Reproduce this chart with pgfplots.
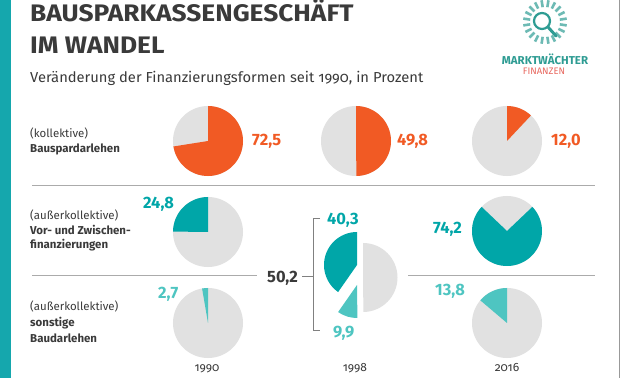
\documentclass[border=0pt]{standalone}
\usepackage{pgfplots}
\pgfplotsset{compat=1.18}
\usepackage{fontspec}
\setmainfont{Fira Sans}
\newfontfamily\osf{Fira Sans}[Numbers=OldStyle]
\definecolor{porange}{HTML}{F15A24}
\definecolor{pteal}{HTML}{00A6A8}
\definecolor{plteal}{HTML}{4EC5C1}
\definecolor{pgray}{HTML}{E1E1E1}
\definecolor{ptext}{HTML}{3A3A3A}
\definecolor{pline}{HTML}{ABABAB}
\definecolor{pbar}{HTML}{15A7AD}
\definecolor{logoteal}{HTML}{2E9C93}
\definecolor{logored}{HTML}{E8685F}
% slice: x, y, radius, start angle, share in percent, direction (+1 ccw, -1 cw), colour
\newcommand{\pieslice}[7]{%
  \fill[#7] (axis cs:#1,#2) -- ++(#4:#3bp) arc[start angle=#4, end angle={#4+#6*#5*3.6}, radius=#3bp] -- cycle;}
\newcommand{\disk}[3]{\fill[pgray] (axis cs:#1,#2) circle[radius=#3bp];}
\newcommand{\fs}[1]{\fontsize{#1}{#1}\selectfont}
\begin{document}
\begin{tikzpicture}
\begin{axis}[x=1bp, y=1bp, xmin=0, xmax=621, ymin=0, ymax=378,
  hide axis, clip=false, anchor=origin, at={(0,0)}]
\fill[white] (axis cs:0,0) rectangle (axis cs:621,378);
\fill[pbar] (axis cs:0,0) rectangle (axis cs:11,378);
\draw[gray!80, line width=1bp] (axis cs:619.5,0) -- (axis cs:619.5,378);
% title
\node[anchor=base west, text=ptext, inner sep=0pt] at (axis cs:30,356.5) {\scalebox{1.1}[1]{\fs{24}\bfseries BAUSPARKASSENGESCHÄFT}};
\node[anchor=base west, text=ptext, inner sep=0pt] at (axis cs:30,325) {\scalebox{1.1}[1]{\fs{24}\bfseries IM WANDEL}};
\node[anchor=base west, text=ptext, inner sep=0pt] at (axis cs:30,296) {\scalebox{1.02}[1]{\fs{14.5}Veränderung der Finanzierungsformen seit {\osf 1990}, in Prozent}};
\node[anchor=base, text=logoteal, inner sep=0pt] at (axis cs:545,314) {\fs{11.5}\bfseries MARKTWÄCHTER};
\node[anchor=base, text=logored, inner sep=0pt] at (axis cs:544,304) {\fs{9.5}FINANZEN};
% separators
\draw[pline, line width=1bp] (axis cs:32,192) -- (axis cs:595,192);
\draw[pline, line width=1bp] (axis cs:32,102) -- (axis cs:257,102);
\draw[pline, line width=1bp] (axis cs:408,102) -- (axis cs:595,102);
% row labels
\node[anchor=base west, text=ptext, inner sep=0pt] at (axis cs:30,240.5) {\fs{11.5}(kollektive)};
\node[anchor=base west, text=ptext, inner sep=0pt] at (axis cs:30,225.5) {\fs{11.5}\bfseries Bauspardarlehen};
\node[anchor=base west, text=ptext, inner sep=0pt] at (axis cs:30,159) {\fs{11.5}(außerkollektive)};
\node[anchor=base west, text=ptext, inner sep=0pt] at (axis cs:30,144) {\fs{11.5}\bfseries Vor- und Zwischen-};
\node[anchor=base west, text=ptext, inner sep=0pt] at (axis cs:30,129.5) {\fs{11.5}\bfseries finanzierungen};
\node[anchor=base west, text=ptext, inner sep=0pt] at (axis cs:30,67.5) {\fs{11.5}(außerkollektive)};
\node[anchor=base west, text=ptext, inner sep=0pt] at (axis cs:30,51.5) {\fs{11.5}\bfseries sonstige};
\node[anchor=base west, text=ptext, inner sep=0pt] at (axis cs:30,35.5) {\fs{11.5}\bfseries Baudarlehen};
% row 1: kollektive Bauspardarlehen (1990, 1998, 2016)
\disk{208}{237}{35} \pieslice{208}{237}{35}{90}{72.5}{-1}{porange}
\disk{356}{237}{35} \pieslice{356}{237}{35}{90}{49.8}{-1}{porange}
\disk{507}{237}{35} \pieslice{507}{237}{35}{90}{12.0}{-1}{porange}
% row 2: Vor- und Zwischenfinanzierungen
\disk{208}{146}{35} \pieslice{208}{146}{35}{90}{24.8}{1}{pteal}
\disk{507}{147}{35} \pieslice{507}{147}{35}{136.44}{74.2}{1}{pteal}
% row 3: sonstige Baudarlehen
\disk{208}{55}{35} \pieslice{208}{55}{35}{90}{2.7}{1}{plteal}
\disk{507}{55}{35} \pieslice{507}{55}{35}{90}{13.8}{1}{plteal}
% 1998 combined (50,2 = 40,3 + 9,9)
\pieslice{363}{100.5}{34.5}{90}{49.8}{-1}{pgray}
\pieslice{357}{113}{33}{90}{40.3}{1}{pteal}
\pieslice{357}{93}{33}{235.08}{9.9}{1}{plteal}
% bracket
\draw[gray, line width=1bp] (axis cs:302,101) -- (axis cs:313,101);
\draw[gray, line width=1bp] (axis cs:320,159) -- (axis cs:313,159) -- (axis cs:313,47) -- (axis cs:320,47);
% values
\node[anchor=base west, text=porange, inner sep=0pt] at (axis cs:252,233) {\fs{16.5}\bfseries 72,5};
\node[anchor=base west, text=porange, inner sep=0pt] at (axis cs:397,233) {\fs{16.5}\bfseries 49,8};
\node[anchor=base west, text=porange, inner sep=0pt] at (axis cs:551,233) {\fs{16.5}\bfseries 12,0};
\node[anchor=base west, text=pteal, inner sep=0pt] at (axis cs:143,170) {\fs{16.5}\bfseries 24,8};
\node[anchor=base west, text=pteal, inner sep=0pt] at (axis cs:327,154) {\fs{16.5}\bfseries 40,3};
\node[anchor=base west, text=pteal, inner sep=0pt] at (axis cs:433,145) {\fs{16.5}\bfseries 74,2};
\node[anchor=base west, text=ptext, inner sep=0pt] at (axis cs:267,96) {\fs{16.5}\bfseries 50,2};
\node[anchor=base west, text=plteal, inner sep=0pt] at (axis cs:333,41) {\fs{16.5}\bfseries 9,9};
\node[anchor=base west, text=plteal, inner sep=0pt] at (axis cs:158,80) {\fs{16.5}\bfseries 2,7};
\node[anchor=base west, text=plteal, inner sep=0pt] at (axis cs:435,83) {\fs{16.5}\bfseries 13,8};
% years
\node[anchor=base, text=ptext, inner sep=0pt] at (axis cs:207,7) {\fs{12}\osf 1990};
\node[anchor=base, text=ptext, inner sep=0pt] at (axis cs:355,7) {\fs{12}\osf 1998};
\node[anchor=base, text=ptext, inner sep=0pt] at (axis cs:507,7) {\fs{12}\osf 2016};
\end{axis}
% logo (decoration, canvas coordinates in bp)
\foreach \a in {0,18,...,342} {
  \draw[logoteal!70, line width=2.6bp] (545bp,356bp) ++(\a+9:15bp) -- ++(\a+9:7bp);
}
\draw[logoteal, line width=2.2bp] (542bp,357bp) circle[radius=8bp];
\draw[logoteal, line width=3bp, line cap=round] (548bp,351bp) -- (556bp,342bp);
\pgfresetboundingbox
\path (0,0) rectangle (621bp,378bp);
\end{tikzpicture}
\end{document}
